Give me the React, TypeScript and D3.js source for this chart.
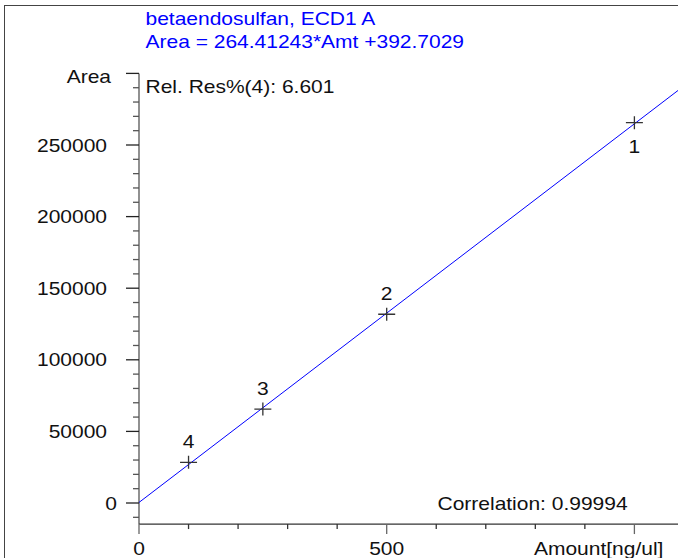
import React, { useEffect, useRef } from 'react';
import * as d3 from 'd3';

// calibration levels
const levels = ['1', '2', '3', '4'];
const amounts = [1000, 500, 250, 100];
const areas = [265600, 131800, 65600, 28400];

const slope = 264.41243;
const intercept = 392.7029;

const titleLines = ['betaendosulfan, ECD1 A', 'Area = 264.41243*Amt +392.7029'];
const relRes = 'Rel. Res%(4): 6.601';
const correlation = 'Correlation: 0.99994';

const yMajor = [0, 50000, 100000, 150000, 200000, 250000, 300000];
const yLabels = ['0', '50000', '100000', '150000', '200000', '250000', ''];
const xMajor = [0, 500, 1000];
const xLabels = ['0', '500', 'Amount[ng/ul]'];

const W = 678;
const H = 558;
const FS = 17.5;
const SX = 1.2; // the original picture is stretched sideways

const App: React.FC = () => {
    const svgRef = useRef<SVGSVGElement>(null);

    useEffect(() => {
        if (!svgRef.current) return;
        const svg = d3.select(svgRef.current);
        svg.selectAll('*').remove();

        const x = d3.scaleLinear().domain([0, 1000]).range([139, 634.4]);
        const y = d3.scaleLinear().domain([0, 300000]).range([503, 73.4]);
        const xAxisY = y(-14700);
        const xMax = x.invert(W);

        const txt = (tx: number, ty: number, s: string, anchor = 'start', color = '#111') =>
            svg.append('text')
                .attr('transform', `translate(${tx},${ty}) scale(${SX},1)`)
                .attr('text-anchor', anchor)
                .attr('font-family', '"Liberation Sans", Arial, sans-serif')
                .attr('font-size', FS)
                .attr('fill', color)
                .text(s);

        // frame
        svg.append('rect')
            .attr('x', 4.5).attr('y', 5.5)
            .attr('width', W + 20).attr('height', H + 20)
            .attr('fill', 'none').attr('stroke', '#444');

        // axes
        svg.append('line')
            .attr('x1', x(0)).attr('x2', x(0))
            .attr('y1', y(300000)).attr('y2', xAxisY)
            .attr('stroke', '#555').attr('stroke-width', 1.3);
        svg.append('line')
            .attr('x1', x(0)).attr('x2', W)
            .attr('y1', xAxisY).attr('y2', xAxisY)
            .attr('stroke', '#333').attr('stroke-width', 1.3);

        // y ticks
        d3.range(-10000, 300001, 10000).forEach(v => {
            const major = v % 50000 === 0;
            svg.append('line')
                .attr('x1', x(0) - (major ? 13 : 6)).attr('x2', x(0))
                .attr('y1', y(v)).attr('y2', y(v))
                .attr('stroke', major ? '#222' : '#555').attr('stroke-width', 1.3);
        });
        yMajor.forEach((v, i) => {
            if (!yLabels[i]) return;
            txt(v === 0 ? 117 : 107, y(v) + 6.5, yLabels[i], 'end');
        });

        // x ticks
        d3.range(0, xMax, 100).forEach(v => {
            const major = v % 500 === 0;
            svg.append('line')
                .attr('x1', x(v)).attr('x2', x(v))
                .attr('y1', xAxisY).attr('y2', xAxisY + (major ? 10 : 5))
                .attr('stroke', major ? '#666' : '#333').attr('stroke-width', 1.3);
        });
        xMajor.forEach((v, i) => {
            if (i === xMajor.length - 1) txt(x(v) + 29, 555, xLabels[i], 'end');
            else txt(x(v), 555, xLabels[i], 'middle');
        });

        // regression line
        svg.append('line')
            .attr('x1', x(0)).attr('y1', y(intercept))
            .attr('x2', x(xMax)).attr('y2', y(slope * xMax + intercept))
            .attr('stroke', '#0000ff').attr('stroke-width', 1);

        // points
        amounts.forEach((a, i) => {
            const px = x(a);
            const py = y(areas[i]);
            svg.append('path')
                .attr('d', `M${px - 8.5},${py}H${px + 8.5}M${px},${py - 6.5}V${py + 6.5}`)
                .attr('stroke', '#333').attr('stroke-width', 1.3).attr('fill', 'none');
            const below = i === 0;
            txt(px, below ? py + 30 : py - 14, levels[i], 'middle');
        });

        // texts
        txt(145.5, 25, titleLines[0], 'start', '#0000ff');
        txt(145.5, 48, titleLines[1], 'start', '#0000ff');
        txt(111, 83, 'Area', 'end');
        txt(145.5, 93, relRes);
        txt(437.5, 510, correlation);
    }, []);

    return (
        <svg ref={svgRef} width={W} height={H}
            style={{ position: 'absolute', left: 0, top: 0, background: '#fff' }} />
    );
};

export default App;
